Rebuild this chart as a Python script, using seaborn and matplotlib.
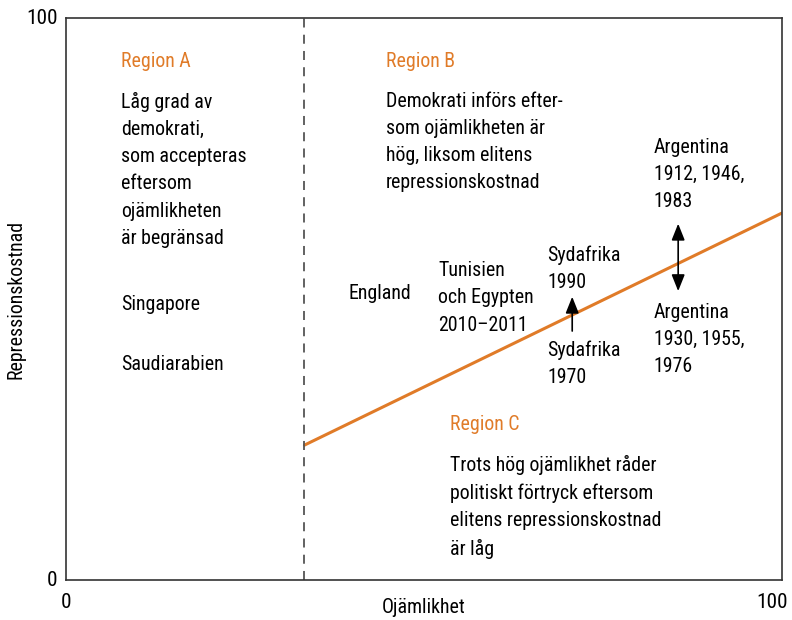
import matplotlib
matplotlib.use("Agg")
import matplotlib.pyplot as plt
import seaborn as sns
import pandas as pd

# threshold line (repression cost needed vs inequality)
line_x = [33.3, 100]
line_y = [24.0, 65.3]
dash_x = 33.3

# arrows: (x, y_start, y_end)
sa_arrow = [70.7, 44.3, 50.4]
arg_arrow = [85.5, 51.4, 63.4]

region_labels = ["Region A", "Region B", "Region C"]
region_texts = [
    "Låg grad av\ndemokrati,\nsom accepteras\neftersom\nojämlikheten\när begränsad",
    "Demokrati införs efter-\nsom ojämlikheten är\nhög, liksom elitens\nrepressionskostnad",
    "Trots hög ojämlikhet råder\npolitiskt förtryck eftersom\nelitens repressionskostnad\när låg",
]
country_texts = [
    "Singapore", "Saudiarabien", "England",
    "Tunisien\noch Egypten\n2010–2011",
    "Sydafrika\n1990", "Sydafrika\n1970",
    "Argentina\n1912, 1946,\n1983",
    "Argentina\n1930, 1955,\n1976",
]

sns.set_style("white")
plt.rcParams['font.family'] = ['Roboto Condensed', 'Liberation Sans Narrow', 'Roboto', 'DejaVu Sans']
plt.rcParams['font.stretch'] = 'condensed'
plt.rcParams['text.color'] = 'black'
plt.rcParams['axes.labelcolor'] = 'black'

orange = "#E07B28"
fs = 14.3

fig = plt.figure(figsize=(7.92, 6.2), dpi=100)
ax = fig.add_axes([66 / 792, 40 / 620, 716 / 792, 562 / 620])

df = pd.DataFrame({"x": line_x, "y": line_y})
sns.lineplot(data=df, x="x", y="y", ax=ax, color=orange, lw=2.2)
ax.axvline(dash_x, color="#555555", ls=(0, (5, 4)), lw=1.3)

ax.set_xlim(0, 100)
ax.set_ylim(0, 100)
ax.set_xticks([])
ax.set_yticks([])
for s in ax.spines.values():
    s.set_color("#333333")
    s.set_linewidth(1.2)

# axis tick labels only at the corners
ax.text(0, -2.3, "0", ha="center", va="top", fontsize=fs + 1)
ax.text(100.8, -2.3, "100", ha="right", va="top", fontsize=fs + 1)
ax.text(-1.2, 0, "0", ha="right", va="center", fontsize=fs + 1)
ax.text(-1.2, 100, "100", ha="right", va="center", fontsize=fs + 1)
ax.set_xlabel("Ojämlikhet", fontsize=fs, labelpad=13)
ax.set_ylabel("Repressionskostnad", fontsize=fs, labelpad=29)

ls = 1.54
# region headings and descriptions
region_pos = [(7.7, 92.3, 86.8), (44.7, 92.3, 86.8), (53.6, 27.7, 22.2)]
for lab, txt, (x, yh, yt) in zip(region_labels, region_texts, region_pos):
    ax.text(x, yh, lab, color=orange, fontsize=fs, va="center", ha="left")
    ax.text(x, yt, txt, color="black", fontsize=fs, va="top", ha="left", linespacing=ls)

country_pos = [(7.7, 50.8), (7.7, 40.1), (39.5, 52.6), (52.0, 56.7),
               (67.2, 59.5), (67.2, 42.6), (82.1, 78.7), (82.1, 49.3)]
for txt, (x, y) in zip(country_texts, country_pos):
    ax.text(x, y, txt, fontsize=fs, va="top", ha="left", linespacing=ls)

ax.annotate("", xy=(sa_arrow[0], sa_arrow[2]), xytext=(sa_arrow[0], sa_arrow[1]),
            arrowprops=dict(arrowstyle="-|>,head_width=0.4,head_length=1.0",
                            color="black", lw=1.2, shrinkA=0, shrinkB=0))
ax.annotate("", xy=(arg_arrow[0], arg_arrow[2]), xytext=(arg_arrow[0], arg_arrow[1]),
            arrowprops=dict(arrowstyle="<|-|>,head_width=0.4,head_length=1.0",
                            color="black", lw=1.2, shrinkA=0, shrinkB=0))

fig.savefig("out.png", dpi=100)
